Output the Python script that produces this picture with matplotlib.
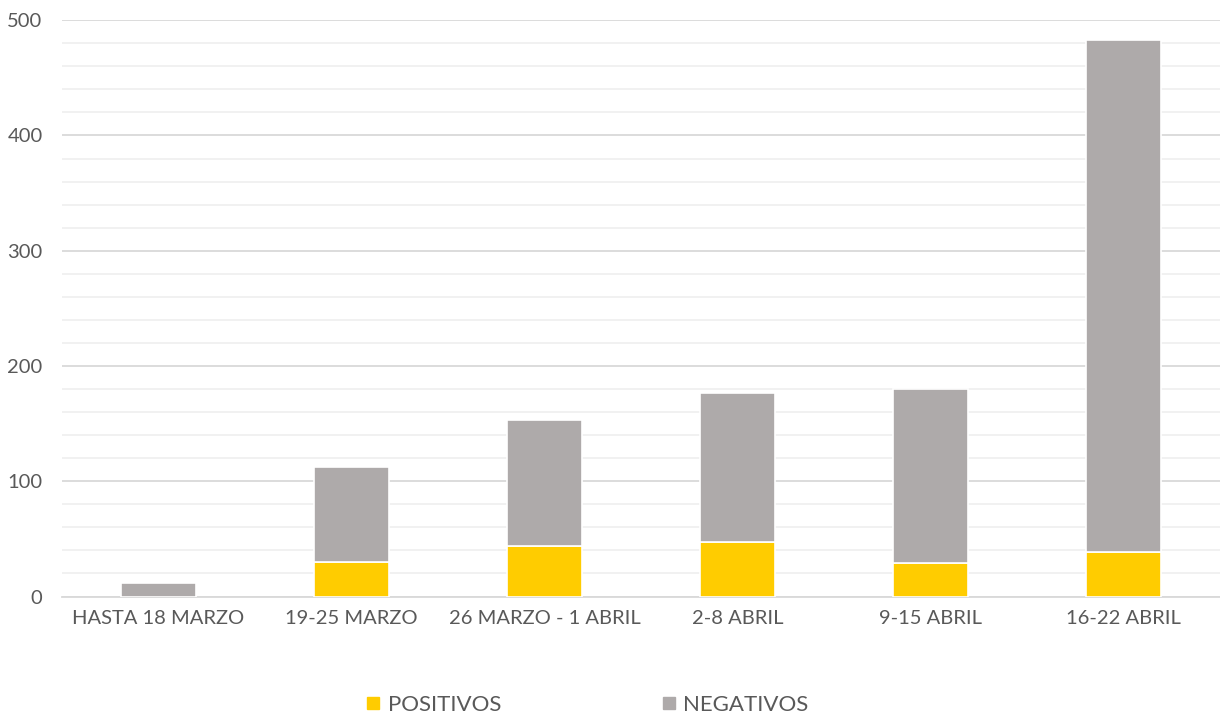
import matplotlib.pyplot as plt
from matplotlib.lines import Line2D
from matplotlib.ticker import MultipleLocator

plt.rcParams['font.family'] = ['Lato', 'DejaVu Sans']

categories = ["HASTA 18 MARZO", "19-25 MARZO", "26 MARZO - 1 ABRIL",
              "2-8 ABRIL", "9-15 ABRIL", "16-22 ABRIL"]
positivos = [0, 30, 44, 47, 29, 39]
negativos = [12, 82, 109, 130, 151, 444]

yellow = "#FFCC00"
grey = "#AEAAAA"
text_color = "#595959"

fig = plt.figure(figsize=(12.2, 7.15), dpi=100)
ax = fig.add_axes([0.0508, 0.1657, 0.9492, 0.806])

x = range(len(categories))
ax.bar(x, positivos, width=0.39, color=yellow, edgecolor="white", linewidth=1.2, zorder=3)
ax.bar(x, negativos, width=0.39, bottom=positivos, color=grey, edgecolor="white",
       linewidth=1.2, zorder=3)

ax.set_xlim(-0.5, len(categories) - 0.5)
ax.set_ylim(0, 500)
ax.yaxis.set_major_locator(MultipleLocator(100))
ax.yaxis.set_minor_locator(MultipleLocator(20))
ax.grid(axis="y", which="major", color="#d9d9d9", linewidth=1.3, zorder=0)
ax.grid(axis="y", which="minor", color="#f0f0f0", linewidth=1.3, zorder=0)

for s in ["top", "right", "left"]:
    ax.spines[s].set_visible(False)
ax.spines["bottom"].set_color("#d9d9d9")
ax.spines["bottom"].set_linewidth(1.3)

ax.set_xticks(list(x))
ax.set_xticklabels(categories)
ax.tick_params(axis="both", which="both", length=0, labelsize=14.5, labelcolor=text_color)
ax.tick_params(axis="y", pad=14)
ax.tick_params(axis="x", pad=10)

handles = [
    Line2D([], [], marker="s", linestyle="none", markersize=9, color=yellow, label="POSITIVOS"),
    Line2D([], [], marker="s", linestyle="none", markersize=9, color=grey, label="NEGATIVOS"),
]
leg = fig.legend(handles=handles, loc="center", bbox_to_anchor=(0.481, 0.014), ncol=2,
                 frameon=False, fontsize=16, handlelength=0.7, handletextpad=0.3,
                 columnspacing=7.2)
for t in leg.get_texts():
    t.set_color(text_color)

fig.savefig("out.png", dpi=100)
